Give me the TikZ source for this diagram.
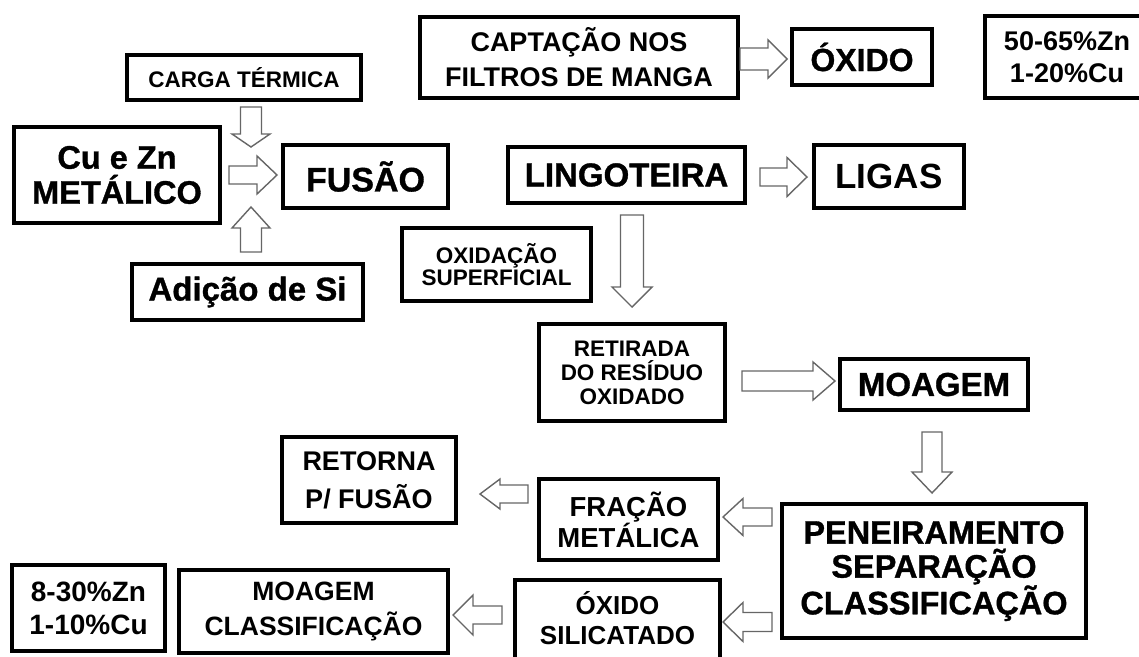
\documentclass[tikz,border=0pt]{standalone}
\usepackage{fontspec}
\setmainfont{Liberation Sans}
\newfontfamily\heavy{Liberation Sans}[FakeBold=1]
\usetikzlibrary{calc}
\tikzset{
  box/.style={draw=black, line width=4pt, fill=white, inner sep=0pt, align=center, text=black},
  barrowline/.style={draw=black!60, line width=1.4pt, fill=white, line join=miter},
}
\newcommand\fs[2]{\fontsize{#1}{#2}\selectfont}
% block arrow from coordinate #1 to coordinate #2, shaft half #3, head half #4, head length #5
\newcommand\barrow[5]{%
  \coordinate (bah) at ($(#2)!#5!(#1)$);
  \draw[barrowline] ($(#1)!#3!90:(#2)$) -- ($(bah)!#3!90:(#2)$) -- ($(bah)!#4!90:(#2)$) -- (#2)
     -- ($(bah)!#4!-90:(#2)$) -- ($(bah)!#3!-90:(#2)$) -- ($(#1)!#3!-90:(#2)$) -- cycle;
}
\begin{document}
\begin{tikzpicture}[x=1pt,y=-1pt]
\useasboundingbox[fill=white] (0,0) rectangle (1139,656);

% boxes
\node[box, minimum width=234pt, minimum height=45pt, font=\bfseries\fs{22.5}{24}] (carga) at (244,77.5) {CARGA TÉRMICA};
\node[box, minimum width=206pt, minimum height=96pt, font=\heavy\bfseries\fs{32.5}{35}] (cu) at (117,175) {Cu e Zn\\METÁLICO};
\node[box, minimum width=165pt, minimum height=63pt, font=\heavy\bfseries\fs{34}{36}] (fus) at (365.5,176.5) {FUSÃO};
\node[box, minimum width=231pt, minimum height=56pt, font=\heavy\bfseries\fs{33}{35}] (adi) at (247.5,292) {Adição de Si};
\node[box, minimum width=318pt, minimum height=81pt, font=\bfseries\fs{27}{35}] (cap) at (579,57.5) {CAPTAÇÃO NOS\\FILTROS DE MANGA};
\node[box, minimum width=140pt, minimum height=56pt, font=\heavy\bfseries\fs{32}{34}] (oxi) at (862,57) {ÓXIDO};
\node[box, minimum width=158pt, minimum height=82pt] (pct) at (1064,57) {};
\node[font=\bfseries\fs{27}{32}, align=center] (pcttext) at (1067,57) {50-65\%Zn\\1-20\%Cu};
\node[box, minimum width=237pt, minimum height=56pt, font=\heavy\bfseries\fs{33}{35}] (lin) at (626.5,175) {LINGOTEIRA};
\node[box, minimum width=150pt, minimum height=63pt, font=\bfseries\fs{35}{36}] (lig) at (889,176.5) {LIGAS};
\node[box, minimum width=189pt, minimum height=73pt, font=\bfseries\fs{22.5}{22}] (oxs) at (496.5,264.5) {OXIDAÇÃO\\SUPERFICIAL};
\node[box, minimum width=186pt, minimum height=97pt, font=\bfseries\fs{22.5}{24}] (ret) at (632,372.5) {RETIRADA\\DO RESÍDUO\\OXIDADO};
\node[box, minimum width=188pt, minimum height=51pt, font=\heavy\bfseries\fs{33}{35}] (moa) at (934,384.5) {MOAGEM};
\node[box, minimum width=304pt, minimum height=134pt, font=\heavy\bfseries\fs{32.5}{34}] (pen) at (934,571) {PENEIRAMENTO\\SEPARAÇÃO\\CLASSIFICAÇÃO};
\node[box, minimum width=174pt, minimum height=86pt, font=\bfseries\fs{27}{38}] (retor) at (369,480) {RETORNA\\P/ FUSÃO};
\node[box, minimum width=179pt, minimum height=81pt, font=\bfseries\fs{27.5}{30}] (fra) at (628.5,519.5) {FRAÇÃO\\METÁLICA};
\node[box, minimum width=205pt, minimum height=83pt] (oxsil) at (617.5,621.5) {};
\node[font=\bfseries\fs{26}{30}, align=center] (oxsiltext) at (617.5,618) {ÓXIDO\\SILICATADO};
\node[box, minimum width=269pt, minimum height=83pt, font=\bfseries\fs{26.5}{35}] (mcl) at (313.5,611.5) {MOAGEM\\CLASSIFICAÇÃO};
\node[box, minimum width=153pt, minimum height=86pt, font=\bfseries\fs{28}{33}] (p2) at (88.5,608) {8-30\%Zn\\1-10\%Cu};

% arrow end points
\coordinate (a1s) at (251,107);  \coordinate (a1e) at (251,147);
\coordinate (a2s) at (229,175);  \coordinate (a2e) at (277,175);
\coordinate (a3s) at (251,252);  \coordinate (a3e) at (251,207);
\coordinate (a4s) at (740,59);   \coordinate (a4e) at (787,59);
\coordinate (a5s) at (760,177);  \coordinate (a5e) at (807,177);
\coordinate (a6s) at (632,215);  \coordinate (a6e) at (632,307);
\coordinate (a7s) at (742,381);  \coordinate (a7e) at (835,381);
\coordinate (a8s) at (932,432);  \coordinate (a8e) at (932,493);
\coordinate (a9s) at (528,494);  \coordinate (a9e) at (480,494);
\coordinate (a10s) at (772,517); \coordinate (a10e) at (723,517);
\coordinate (a11s) at (502,615); \coordinate (a11e) at (453,615);
\coordinate (a12s) at (772,622); \coordinate (a12e) at (723,622);

\barrow{a1s}{a1e}{10.5pt}{19pt}{13pt}
\barrow{a2s}{a2e}{9pt}{19pt}{20pt}
\barrow{a3s}{a3e}{10.5pt}{19pt}{21pt}
\barrow{a4s}{a4e}{11pt}{19pt}{19pt}
\barrow{a5s}{a5e}{9pt}{19.5pt}{20pt}
\barrow{a6s}{a6e}{11.5pt}{20pt}{20pt}
\barrow{a7s}{a7e}{10pt}{19pt}{22pt}
\barrow{a8s}{a8e}{10pt}{20pt}{21pt}
\barrow{a9s}{a9e}{9pt}{15pt}{20pt}
\barrow{a10s}{a10e}{9pt}{18.5pt}{20pt}
\barrow{a11s}{a11e}{9pt}{20pt}{20pt}
\barrow{a12s}{a12e}{9.5pt}{19.5pt}{20pt}
\end{tikzpicture}
\end{document}
